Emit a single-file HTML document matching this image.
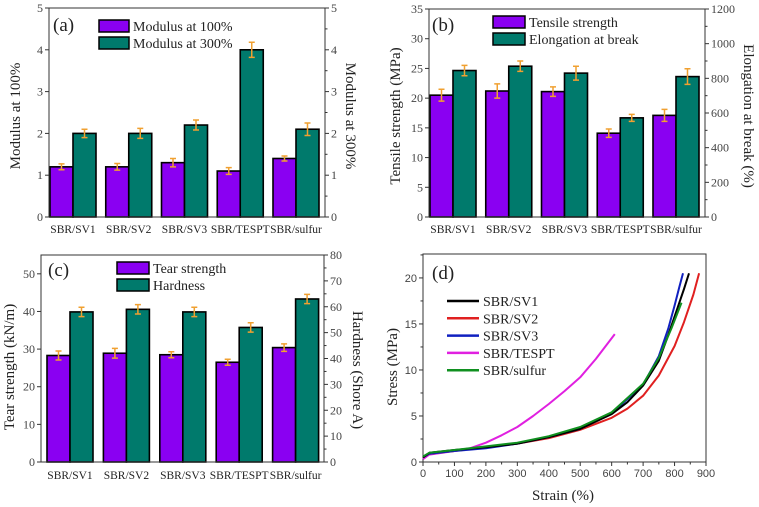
<!DOCTYPE html>
<html><head><meta charset="utf-8"><style>
html,body{margin:0;padding:0;background:#fff;}
svg{display:block;}
svg text{font-family:"Liberation Serif","Times New Roman",serif;}
svg text.sans{font-family:"Liberation Sans",Arial,sans-serif;}
</style></head><body>
<svg id="fig" width="759" height="507" viewBox="0 0 759 507" xmlns="http://www.w3.org/2000/svg"></svg>
<script>
const categories = ["SBR/SV1","SBR/SV2","SBR/SV3","SBR/TESPT","SBR/sulfur"];
const mod100 = [1.2,1.2,1.3,1.1,1.4];
const mod100Err = [0.07,0.08,0.1,0.08,0.06];
const mod300 = [2.0,2.0,2.2,4.0,2.1];
const mod300Err = [0.1,0.12,0.12,0.18,0.15];
const tensile = [20.5,21.2,21.1,14.1,17.1];
const tensileErr = [1.0,1.2,0.8,0.7,1.0];
const elong = [845,870,830,572,810];
const elongErr = [30,30,40,20,45];
const tear = [28.3,28.9,28.5,26.5,30.4];
const tearErr = [1.2,1.3,0.8,0.8,1.0];
const hardness = [58,59,58,52,63];
const hardnessErr = [1.8,1.8,1.8,1.8,1.8];
const ticksA = [0,1,2,3,4,5];
const ticksBL = [0,5,10,15,20,25,30,35];
const ticksBR = [0,200,400,600,800,1000,1200];
const ticksCL = [0,10,20,30,40,50];
const ticksCR = [0,10,20,30,40,50,60,70,80];
const ticksDX = [0,100,200,300,400,500,600,700,800,900];
const ticksDY = [0,5,10,15,20];
const curveNames = ["SBR/SV1","SBR/SV2","SBR/SV3","SBR/TESPT","SBR/sulfur"];
const curveColors = ["#000000","#e02020","#1020c0","#e020e0","#109020"];
const strainSV1 = [0,20,100,200,300,400,500,600,650,700,750,780,810,830,846];
const stressSV1 = [0.5,1.0,1.3,1.6,2.0,2.7,3.6,5.2,6.5,8.3,11,13.8,16.8,18.8,20.5];
const strainSV2 = [0,20,100,200,300,400,500,600,650,700,750,800,830,860,878];
const stressSV2 = [0.5,0.9,1.2,1.6,2.0,2.6,3.5,4.8,5.8,7.2,9.4,12.6,15.2,18.2,20.5];
const strainSV3 = [0,20,100,200,300,400,500,600,700,750,780,800,815,827];
const stressSV3 = [0.5,0.9,1.2,1.5,2.0,2.7,3.6,5.3,8.4,11.5,14.5,17,19,20.5];
const strainTESPT = [0,20,100,150,200,250,300,350,400,450,500,550,610];
const stressTESPT = [0.3,0.8,1.2,1.5,2.1,2.9,3.8,5.0,6.3,7.7,9.2,11.2,13.9];
const strainSulfur = [0,20,100,200,300,400,500,600,700,750,790,822];
const stressSulfur = [0.6,1.0,1.3,1.7,2.1,2.8,3.8,5.4,8.5,11.3,14.5,17.3];

const NS = "http://www.w3.org/2000/svg";
const svg = document.getElementById("fig");
function mk(tag, attrs, parent){
  const e = document.createElementNS(NS, tag);
  for (const k in attrs) e.setAttribute(k, attrs[k]);
  (parent||svg).appendChild(e);
  return e;
}
function txt(s, x, y, size, anchor, extra){
  const t = mk("text", Object.assign({x:x, y:y, "font-size":size, "text-anchor":anchor||"middle", fill:"#222"}, extra||{}));
  t.textContent = s;
  return t;
}
const PURPLE="#8a00f2", TEAL="#007a6c", ERR="#f0a030";

function barPanel(p){
  const g = mk("g", {});
  
  
  const yL = v => p.yb - (v/p.lmax)*(p.yb-p.yt);
  const yR = v => p.yb - (v/p.rmax)*(p.yb-p.yt);
  const xc = i => p.c0 + i*p.sp;
  for (let i=0;i<categories.length;i++){
    const b1 = mk("rect",{x:xc(i)-p.bw, y:yL(p.v1[i]), width:p.bw, height:p.yb-yL(p.v1[i]), fill:PURPLE, stroke:"#000","stroke-width":1.6}, g);
    
    
    const b2 = mk("rect",{x:xc(i), y:yR(p.v2[i]), width:p.bw, height:p.yb-yR(p.v2[i]), fill:TEAL, stroke:"#000","stroke-width":1.6}, g);
    
    
    [[xc(i)-p.bw/2, p.v1[i], p.e1[i], yL],[xc(i)+p.bw/2, p.v2[i], p.e2[i], yR]].forEach(function(a){
      const x=a[0], ya=a[3](a[1]+a[2]), yb=a[3](a[1]-a[2]);
      const eb = mk("path",{d:"M"+x+" "+ya+"V"+yb+"M"+(x-3)+" "+ya+"H"+(x+3)+"M"+(x-3)+" "+yb+"H"+(x+3), stroke:ERR,"stroke-width":1.5, fill:"none"}, g);
      
      
    });
    const xl = txt(categories[i], xc(i), p.xly, 11.5, "middle", {}); g.appendChild(xl);
    
    
  }
  const fr = mk("rect",{x:p.x0,y:p.yt,width:p.x1-p.x0,height:p.yb-p.yt,fill:"none",stroke:"#333","stroke-width":1}, g);
  
  
  p.tl.forEach(function(v){
    const y=yL(v);
    mk("line",{x1:p.x0-4,x2:p.x0,y1:y,y2:y,stroke:"#333"},g);
    const t = txt(String(v), p.x0-6, y+4, 12, "end", {fill:"#444"}); g.appendChild(t);
    
    
  });
  for (let k=0;k<p.tr.length;k++){
    const y=yR(p.tr[k]);
    mk("line",{x1:p.x1,x2:p.x1+4,y1:y,y2:y,stroke:"#333"},g);
    if (k<p.tr.length-1){ const ym=(y+yR(p.tr[k+1]))/2; mk("line",{x1:p.x1,x2:p.x1+2.5,y1:ym,y2:ym,stroke:"#333"},g); }
    const t = txt(String(p.tr[k]), p.x1+6, y+4, 12, "start", {fill:"#444"}); g.appendChild(t);
    
    
  }
  const lt = txt(p.ltitle, 0, 0, 15, "middle", {transform:"translate("+p.ltx+","+p.lty+") rotate(-90)"}); g.appendChild(lt);
  
  
  const rt = txt(p.rtitle, 0, 0, 15, "middle", {transform:"translate("+p.rtx+","+p.rty+") rotate(90)"}); g.appendChild(rt);
  
  
  const pl = txt(p.label, p.lbx, p.lby, 19, "start", {}); g.appendChild(pl);
  
  
  [[PURPLE,p.leg1,0],[TEAL,p.leg2,1]].forEach(function(l){
    const y = p.legy + l[2]*p.legdy;
    const r = mk("rect",{x:p.legx,y:y,width:p.legw,height:12,fill:l[0],stroke:"#000","stroke-width":1.5},g);
    
    
    const t = txt(l[1], p.legx+p.legw+4, y+11, 14, "start", {}); g.appendChild(t);
    
    
  });
}

barPanel({name:"panel-a-modulus",x0:49,x1:325,yt:8,yb:217,lmax:5,rmax:5,c0:73,sp:55.75,bw:23,
  v1:mod100,e1:mod100Err,v2:mod300,e2:mod300Err,tl:ticksA,tr:ticksA,xly:233,
  ltitle:"Modulus at 100%",ltx:20,lty:116,rtitle:"Modulus at 300%",rtx:346,rty:116,
  label:"(a)",lbx:53,lby:31,legx:99,legy:20,legdy:17,legw:30,leg1:"Modulus at 100%",leg2:"Modulus at 300%"});
barPanel({name:"panel-b-tensile",x0:429,x1:705,yt:9,yb:217,lmax:35,rmax:1200,c0:453,sp:55.75,bw:23,
  v1:tensile,e1:tensileErr,v2:elong,e2:elongErr,tl:ticksBL,tr:ticksBR,xly:233,
  ltitle:"Tensile strength (MPa)",ltx:400,lty:116,rtitle:"Elongation at break (%)",rtx:744,rty:116,
  label:"(b)",lbx:432,lby:31,legx:493,legy:16,legdy:17,legw:32,leg1:"Tensile strength",leg2:"Elongation at break"});
barPanel({name:"panel-c-tear",x0:41,x1:324,yt:255,yb:462,lmax:55,rmax:80,c0:70,sp:56.4,bw:23,
  v1:tear,e1:tearErr,v2:hardness,e2:hardnessErr,tl:ticksCL,tr:ticksCR,xly:479,
  ltitle:"Tear strength (kN/m)",ltx:14,lty:367,rtitle:"Hardness (Shore A)",rtx:353,rty:370,
  label:"(c)",lbx:48,lby:276,legx:117,legy:262,legdy:17,legw:32,leg1:"Tear strength",leg2:"Hardness"});

(function(){
  const g = mk("g", {});
  
  
  const x0=423,x1=706,yt=254,yb=462;
  const xs = v => x0 + v/900*(x1-x0);
  const ys = v => yb - v/22.6*(yb-yt);
  const fr = mk("rect",{x:x0,y:yt,width:x1-x0,height:yb-yt,fill:"none",stroke:"#333","stroke-width":1},g);
  
  
  ticksDX.forEach(function(v,k){
    mk("line",{x1:xs(v),x2:xs(v),y1:yb,y2:yb+4,stroke:"#333"},g);
    if (k<ticksDX.length-1) mk("line",{x1:xs(v+50),x2:xs(v+50),y1:yb,y2:yb+2.5,stroke:"#333"},g);
    const t = txt(String(v), xs(v), yb+15, 11, "middle", {fill:"#444","class":"sans"}); g.appendChild(t);
    
    
  });
  ticksDY.forEach(function(v){
    mk("line",{x1:x0-4,x2:x0,y1:ys(v),y2:ys(v),stroke:"#333"},g);
    mk("line",{x1:x0-2.5,x2:x0,y1:ys(v+2.5),y2:ys(v+2.5),stroke:"#333"},g);
    const t = txt(String(v), x0-6, ys(v)+4, 11, "end", {fill:"#444","class":"sans"}); g.appendChild(t);
    
    
  });
  const xt = txt("Strain (%)", 563, 500, 15, "middle", {}); g.appendChild(xt);
  
  
  const yt2 = txt("Stress (MPa)", 0, 0, 15, "middle", {transform:"translate(397,367) rotate(-90)"}); g.appendChild(yt2);
  
  
  const pl = txt("(d)", 432, 279, 19, "start", {}); g.appendChild(pl);
  
  
  const series = [[strainSV1,stressSV1],[strainSV2,stressSV2],[strainSV3,stressSV3],[strainTESPT,stressTESPT],[strainSulfur,stressSulfur]];
  const order = [3,1,2,0,4];
  order.forEach(function(s){
    const xsA = series[s][0], ysA = series[s][1];
    let d = "";
    for (let i=0;i<xsA.length;i++) d += (i?"L":"M") + xs(xsA[i]).toFixed(1) + " " + ys(ysA[i]).toFixed(1);
    const pth = mk("path",{d:d,fill:"none",stroke:curveColors[s],"stroke-width":2,"stroke-linejoin":"round"},g);
    
    
  });
  curveNames.forEach(function(n,i){
    const y = 301 + i*17.3;
    const ln = mk("line",{x1:447,x2:479,y1:y,y2:y,stroke:curveColors[i],"stroke-width":2.5},g);
    
    
    const t = txt(n, 483, y+5, 14, "start", {}); g.appendChild(t);
    
    
  });
})();
</script>
</body></html>
